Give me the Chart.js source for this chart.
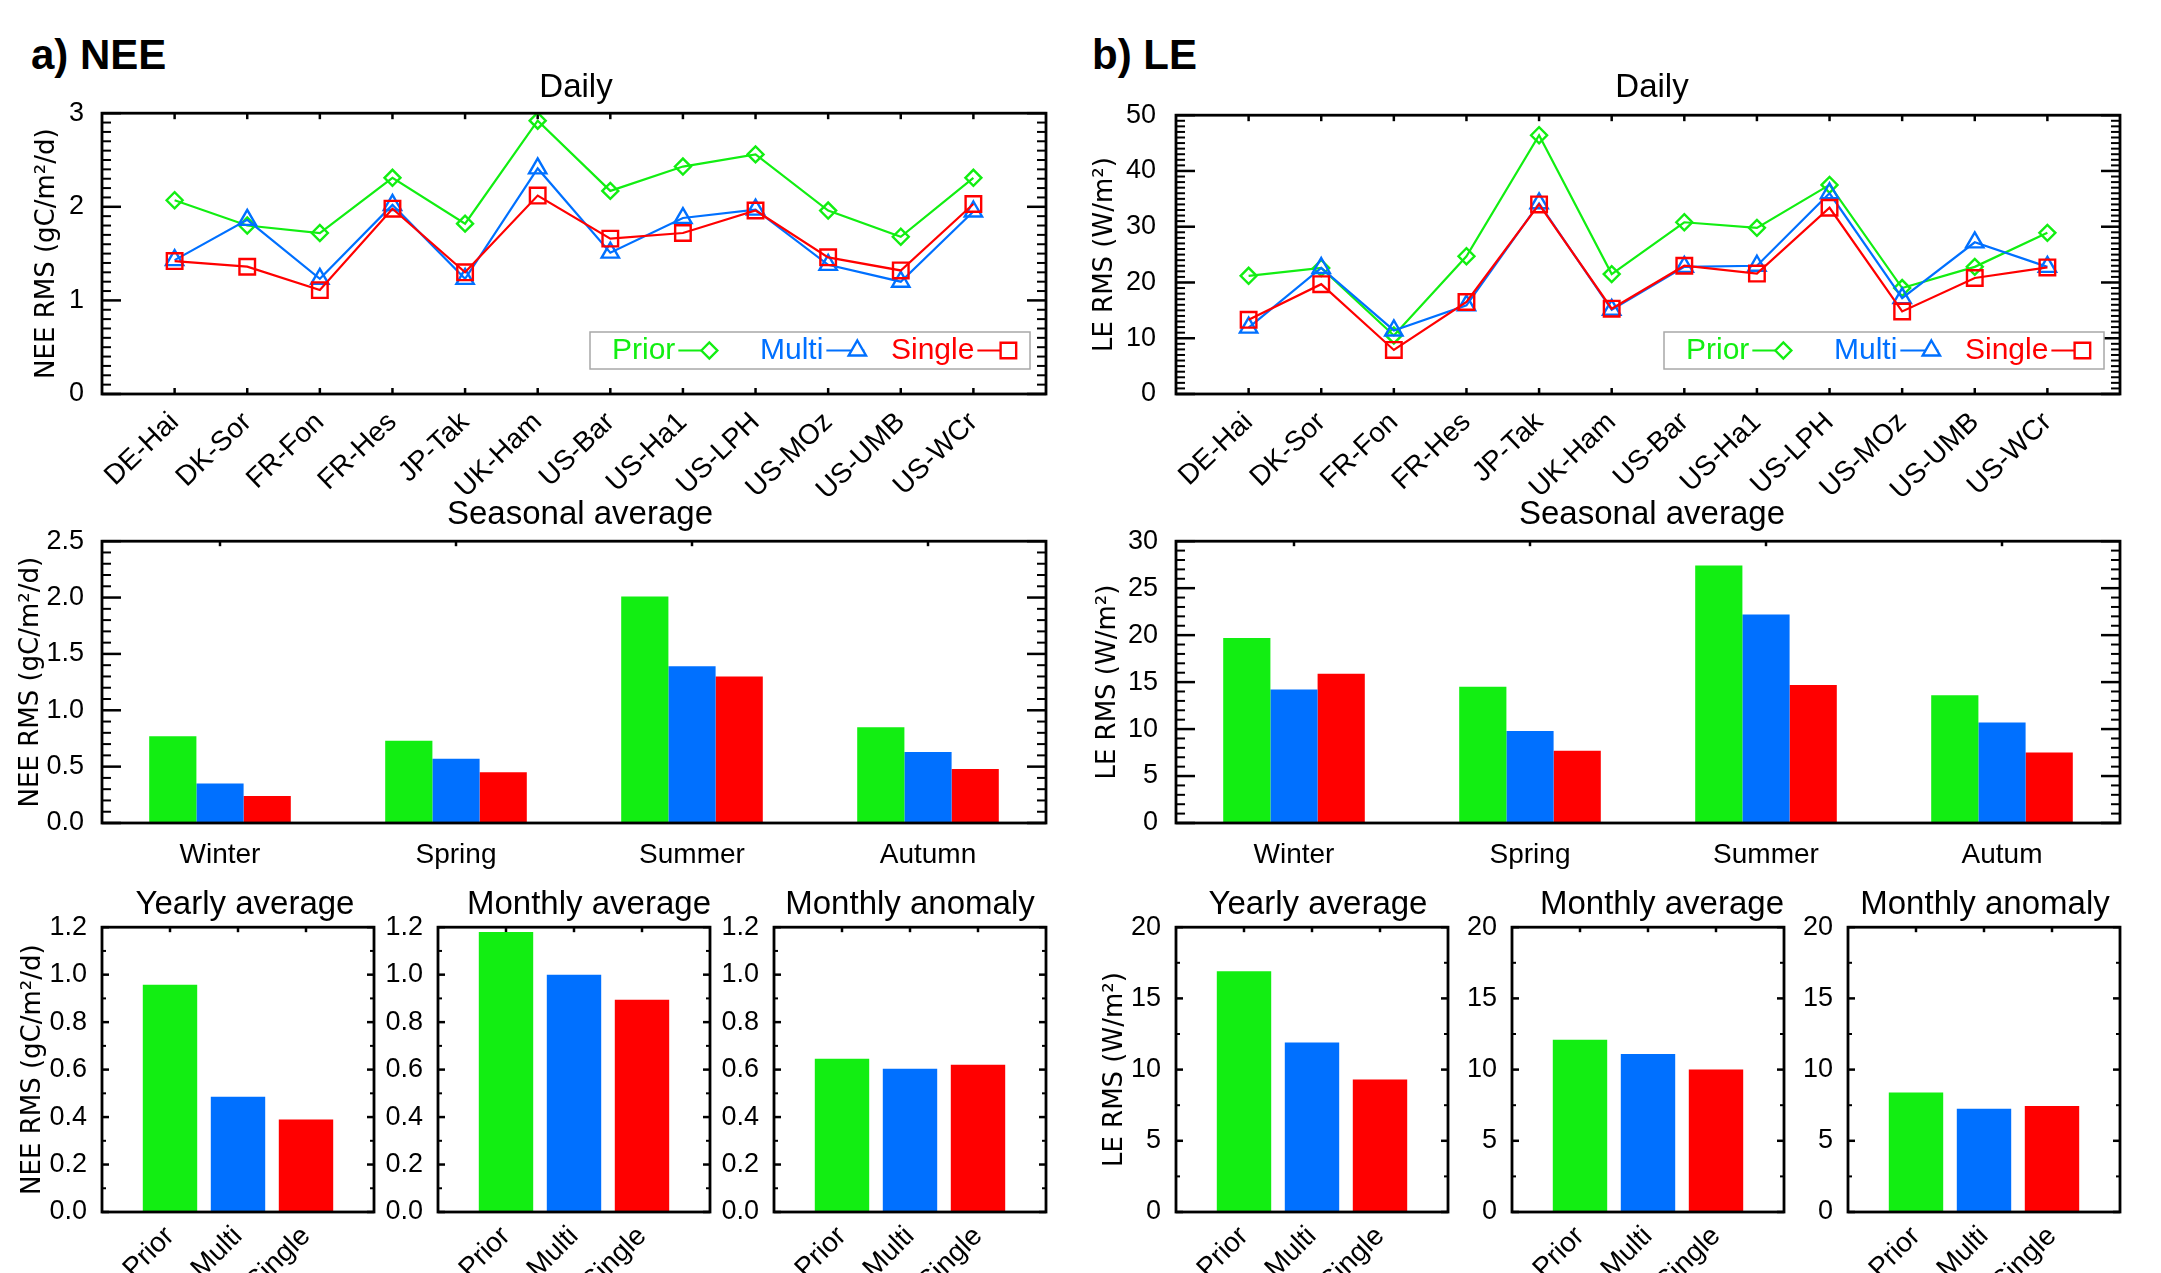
<!DOCTYPE html>
<html>
<head>
<meta charset="utf-8">
<script src="https://cdn.jsdelivr.net/npm/chart.js@4.4.1/dist/chart.umd.min.js"></script>
<style>
  body { margin: 0; background: #fff; }
  #page { position: relative; width: 2161px; height: 1273px; overflow: hidden; background: #fff; }
  #page canvas { position: absolute; }
  .ttl { position: absolute; font-family: 'Liberation Sans', Arial, sans-serif; font-size: 33px; color: #000;
         white-space: nowrap; transform: translate(-50%, -50%); }
  .tag { position: absolute; font-family: 'Liberation Sans', Arial, sans-serif; font-weight: bold; font-size: 42px;
         color: #000; white-space: nowrap; transform: translateY(-50%); }
</style>
</head>
<body>
<div id="page"></div>
<script>
// --- DATA ---
const sites = ['DE-Hai', 'DK-Sor', 'FR-Fon', 'FR-Hes', 'JP-Tak', 'UK-Ham', 'US-Bar', 'US-Ha1', 'US-LPH', 'US-MOz', 'US-UMB', 'US-WCr'];
const seasonsNEE = ['Winter', 'Spring', 'Summer', 'Autumn'];
const seasonsLE = ['Winter', 'Spring', 'Summer', 'Autum'];
const runs = ['Prior', 'Multi', 'Single'];

// daily RMS per site
const neeDailyPrior  = [2.07, 1.80, 1.72, 2.31, 1.82, 2.92, 2.17, 2.43, 2.56, 1.96, 1.68, 2.31];
const neeDailyMulti  = [1.43, 1.86, 1.23, 2.02, 1.23, 2.41, 1.51, 1.88, 1.97, 1.38, 1.20, 1.95];
const neeDailySingle = [1.42, 1.36, 1.11, 1.98, 1.30, 2.12, 1.66, 1.72, 1.96, 1.46, 1.32, 2.03];

const leDailyPrior  = [21.2, 22.6, 10.5, 24.7, 46.4, 21.5, 30.8, 29.8, 37.5, 19.0, 22.8, 28.9];
const leDailyMulti  = [11.9, 22.6, 11.4, 15.9, 34.2, 15.1, 22.8, 23.0, 36.0, 17.2, 27.2, 22.8];
const leDailySingle = [13.3, 19.7, 7.9, 16.5, 34.0, 15.3, 23.0, 21.6, 33.4, 14.8, 20.8, 22.7];

// seasonal average
const neeSeasonPrior  = [0.77, 0.73, 2.01, 0.85];
const neeSeasonMulti  = [0.35, 0.57, 1.39, 0.63];
const neeSeasonSingle = [0.24, 0.45, 1.30, 0.48];

const leSeasonPrior  = [19.7, 14.5, 27.4, 13.6];
const leSeasonMulti  = [14.2, 9.8, 22.2, 10.7];
const leSeasonSingle = [15.9, 7.7, 14.7, 7.5];

// Prior, Multi, Single
const neeYearly  = [0.957, 0.486, 0.39];
const neeMonthly = [1.18, 1.0, 0.894];
const neeAnomaly = [0.646, 0.604, 0.62];

const leYearly  = [16.9, 11.9, 9.3];
const leMonthly = [12.1, 11.1, 10.0];
const leAnomaly = [8.4, 7.25, 7.45];

// --- STYLE ---
const GREEN = '#12ee12';
const BLUE = '#0070ff';
const RED = '#ff0000';
const FONT = "'Liberation Sans', Arial, sans-serif";
const TITLE_FONT = "'DejaVu Sans', Verdana, sans-serif";

Chart.defaults.color = '#000';
Chart.defaults.font.family = FONT;

const page = document.getElementById('page');

// frame + inward ticks, IDL style
const idlFrame = {
  id: 'idlFrame',
  beforeDatasetsDraw(chart, args, o) {
    const { ctx, chartArea: a, scales: { x, y } } = chart;
    const line = (x1, y1, x2, y2) => { ctx.beginPath(); ctx.moveTo(x1, y1); ctx.lineTo(x2, y2); ctx.stroke(); };
    ctx.save();
    ctx.strokeStyle = '#000';
    const n = Math.round((y.max - y.min) / o.minor);
    for (let i = 0; i <= n; i++) {
      const v = y.min + i * o.minor;
      const r = v / o.major;
      const major = Math.abs(r - Math.round(r)) < 1e-6;
      const py = y.getPixelForValue(v);
      const len = major ? o.majorLen : o.minorLen;
      ctx.lineWidth = major ? 2.5 : 2;
      line(a.left, py, a.left + len, py);
      line(a.right, py, a.right - len, py);
    }
    ctx.lineWidth = 2.5;
    o.xTicks.forEach(i => {
      const px = x.getPixelForValue(i);
      line(px, a.top, px, a.top + o.xLen);
      if (o.xBottom) line(px, a.bottom, px, a.bottom - o.xLen);
    });
    ctx.restore();
  },
  afterDatasetsDraw(chart) {
    const { ctx, chartArea: a } = chart;
    ctx.save();
    ctx.strokeStyle = '#000';
    ctx.lineWidth = 2.8;
    ctx.strokeRect(a.left, a.top, a.right - a.left, a.bottom - a.top);
    ctx.restore();
  }
};

// legend: text, then a short line with the marker at its end
const idlLegend = {
  id: 'idlLegend',
  afterDraw(chart, args, o) {
    if (!o.show) return;
    const { ctx, chartArea: a } = chart;
    const r = a.right - o.right, b = a.bottom - o.bottom;
    const l = r - o.width, t = b - o.height;
    const cy = t + o.height / 2;
    ctx.save();
    ctx.fillStyle = '#fff';
    ctx.fillRect(l, t, o.width, o.height);
    ctx.strokeStyle = '#a8a8a8';
    ctx.lineWidth = 1.5;
    ctx.strokeRect(l, t, o.width, o.height);
    ctx.font = '30px ' + FONT;
    ctx.textBaseline = 'middle';
    ctx.textAlign = 'left';
    chart.data.datasets.forEach((ds, i) => {
      let xx = l + o.cols[i];
      ctx.fillStyle = ds.borderColor;
      ctx.fillText(ds.label, xx, cy);
      xx += ctx.measureText(ds.label).width + 3;
      ctx.strokeStyle = ds.borderColor;
      ctx.lineWidth = ds.borderWidth;
      ctx.beginPath(); ctx.moveTo(xx, cy); ctx.lineTo(xx + o.lineLen, cy); ctx.stroke();
      ctx.fillStyle = '#fff';
      ctx.lineWidth = ds.pointBorderWidth;
      Chart.helpers.drawPoint(ctx, { pointStyle: ds.pointStyle, radius: ds.pointRadius, borderWidth: ds.pointBorderWidth, rotation: 0 },
        xx + o.lineLen - 7, cy);
    });
    ctx.restore();
  }
};

function yScale(o) {
  const canvasLeft = o.frame[0] - o.yw;
  return {
    min: o.min, max: o.max,
    grid: { display: false }, border: { display: false },
    ticks: { stepSize: o.major, padding: o.tickPad, font: { size: 27 }, callback: v => Number(v).toFixed(o.dec) },
    title: o.yTitle
      ? { display: true, text: o.yTitle, font: { family: TITLE_FONT, size: 26 }, padding: { top: o.titleX - canvasLeft - 15.6, bottom: 0 } }
      : { display: false },
    afterFit: s => { s.width = o.yw; }
  };
}

function makePanel(o) {
  // right pad kept wider than the padding Chart.js reserves for rotated labels
  const pt = 22, pr = 30;
  const [fl, ft, fr, fb] = o.frame;
  const cv = document.createElement('canvas');
  cv.width = o.yw + (fr - fl) + pr;
  cv.height = pt + (fb - ft) + o.xh;
  cv.style.left = (fl - o.yw) + 'px';
  cv.style.top = (ft - pt) + 'px';
  page.appendChild(cv);
  new Chart(cv, {
    type: o.type,
    data: o.data,
    options: {
      responsive: false,
      animation: false,
      devicePixelRatio: 1,
      layout: { padding: { top: pt, right: pr, left: 0, bottom: 0 } },
      plugins: {
        legend: { display: false },
        tooltip: { enabled: false },
        idlFrame: o.ticks,
        idlLegend: o.legend || { show: false }
      },
      scales: {
        x: {
          grid: { display: false, offset: o.xOffset }, border: { display: false },
          offset: o.xOffset,
          ticks: { autoSkip: false, minRotation: o.rot, maxRotation: o.rot, padding: o.xPad, font: { size: o.xFont } },
          afterFit: s => { s.height = o.xh; }
        },
        y: yScale(o)
      }
    },
    plugins: [idlFrame, idlLegend]
  });
}

function lineSet(label, data, color, style, radius, order) {
  return {
    label, data: [null, ...data, null], borderColor: color, borderWidth: 2.2,
    pointStyle: style, pointRadius: radius, pointBorderWidth: 2.4, pointBorderColor: color,
    pointBackgroundColor: 'rgba(255,255,255,0)', tension: 0, order
  };
}

function dailyPanel(frame, titleX, yTitle, min, max, major, minor, tickPad, prior, multi, single) {
  makePanel({
    type: 'line', frame, titleX, yw: frame[0] - titleX + 17, yTitle, min, max, major, dec: 0, tickPad,
    xh: 140, rot: 44, xPad: 4, xOffset: false, xFont: 28,
    ticks: { minor, major, majorLen: 19, minorLen: 9, xTicks: sites.map((s, i) => i + 1), xLen: 6, xBottom: true },
    legend: { show: true, right: 16, bottom: 25, width: 440, height: 37, cols: [22, 170, 301], lineLen: 38 },
    data: {
      labels: ['', ...sites, ''],
      datasets: [
        lineSet('Prior', prior, GREEN, 'rectRot', 8, 3),
        lineSet('Multi', multi, BLUE, 'triangle', 10, 2),
        lineSet('Single', single, RED, 'rect', 11, 1)
      ]
    }
  });
}

function seasonPanel(frame, titleX, yTitle, cats, min, max, major, minor, dec, prior, multi, single) {
  const bar = (label, data, color) => ({ label, data, backgroundColor: color, borderWidth: 0, categoryPercentage: 0.6, barPercentage: 1.0 });
  makePanel({
    type: 'bar', frame, titleX, yw: frame[0] - titleX + 17, yTitle, min, max, major, dec, tickPad: 10,
    xh: 60, rot: 0, xPad: 7, xOffset: true, xFont: 28,
    ticks: { minor, major, majorLen: 19, minorLen: 9, xTicks: cats.map((c, i) => i), xLen: 5, xBottom: false },
    data: { labels: cats, datasets: [bar('Prior', prior, GREEN), bar('Multi', multi, BLUE), bar('Single', single, RED)] }
  });
}

function smallPanel(frame, titleX, yTitle, min, max, major, minor, dec, values) {
  makePanel({
    type: 'bar', frame, titleX, yw: yTitle ? frame[0] - titleX + 17 : 64, yTitle, min, max, major, dec, tickPad: 7,
    xh: 110, rot: 45, xPad: 0, xOffset: false, xFont: 28,
    ticks: { minor, major, majorLen: 7, minorLen: 4, xTicks: [1, 2, 3], xLen: 5, xBottom: false },
    data: {
      labels: ['', ...runs, ''],
      datasets: [{ data: [null, ...values, null], backgroundColor: ['#fff', GREEN, BLUE, RED, '#fff'], borderWidth: 0, categoryPercentage: 1.0, barPercentage: 0.8 }]
    }
  });
}

// --- PANELS ---
const neeUnit = 'NEE RMS (gC/m\u00B2/d)';
const leUnit = 'LE RMS (W/m\u00B2)';

dailyPanel([102, 109, 1046, 394], 47, neeUnit, 0, 3, 1, 0.1, 10, neeDailyPrior, neeDailyMulti, neeDailySingle);
dailyPanel([1176, 109, 2120, 394], 1105, leUnit, 0, 50, 10, 1, 12, leDailyPrior, leDailyMulti, leDailySingle);

seasonPanel([102, 537, 1046, 823], 31, neeUnit, seasonsNEE, 0, 2.5, 0.5, 0.1, 1, neeSeasonPrior, neeSeasonMulti, neeSeasonSingle);
seasonPanel([1176, 537, 2120, 823], 1108, leUnit, seasonsLE, 0, 30, 5, 1, 0, leSeasonPrior, leSeasonMulti, leSeasonSingle);

smallPanel([102, 926, 374, 1212], 33, neeUnit, 0, 1.2, 0.2, 0.1, 1, neeYearly);
smallPanel([438, 926, 710, 1212], null, null, 0, 1.2, 0.2, 0.1, 1, neeMonthly);
smallPanel([774, 926, 1046, 1212], null, null, 0, 1.2, 0.2, 0.1, 1, neeAnomaly);

smallPanel([1176, 926, 1448, 1212], 1115, leUnit, 0, 20, 5, 2.5, 0, leYearly);
smallPanel([1512, 926, 1784, 1212], null, null, 0, 20, 5, 2.5, 0, leMonthly);
smallPanel([1848, 926, 2120, 1212], null, null, 0, 20, 5, 2.5, 0, leAnomaly);

// --- TITLES ---
function text(cls, str, x, y) {
  const d = document.createElement('div');
  d.className = cls;
  d.textContent = str;
  d.style.left = x + 'px';
  d.style.top = y + 'px';
  page.appendChild(d);
}
text('tag', 'a) NEE', 31, 55);
text('tag', 'b) LE', 1092, 55);
text('ttl', 'Daily', 576, 86);
text('ttl', 'Daily', 1652, 86);
text('ttl', 'Seasonal average', 580, 513);
text('ttl', 'Seasonal average', 1652, 513);
text('ttl', 'Yearly average', 245, 903);
text('ttl', 'Monthly average', 589, 903);
text('ttl', 'Monthly anomaly', 910, 903);
text('ttl', 'Yearly average', 1318, 903);
text('ttl', 'Monthly average', 1662, 903);
text('ttl', 'Monthly anomaly', 1985, 903);
</script>
</body>
</html>
